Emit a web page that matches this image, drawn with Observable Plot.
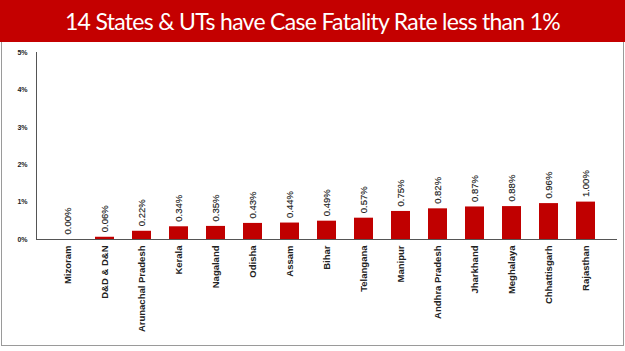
<!DOCTYPE html>
<html>
<head>
<meta charset="utf-8">
<script src="https://cdn.jsdelivr.net/npm/d3@7"></script>
<script src="https://cdn.jsdelivr.net/npm/@observablehq/plot@0.6"></script>
<style>
  html, body { margin: 0; padding: 0; background: #ffffff; width: 625px; height: 351px; overflow: hidden; }
  #banner { height: 42px; background: #c40000; color: #ffffff; font-family: Lato, "Open Sans", sans-serif; font-size: 23px; letter-spacing: -0.7px; line-height: 42px; text-align: center; white-space: nowrap; }
  #box { position: absolute; left: 1px; top: 42px; width: 621px; height: 303px; border-left: 1px solid #9a9a9a; border-right: 1px solid #9a9a9a; border-bottom: 1px solid #9a9a9a; }
  #chart { position: absolute; left: 0; top: 42px; }
</style>
</head>
<body>
<div id="banner">14 States &amp; UTs have Case Fatality Rate less than 1%</div>
<div id="box"></div>
<div id="chart"></div>
<script>
const states = ["Mizoram", "D&D & D&N", "Arunachal Pradesh", "Kerala", "Nagaland", "Odisha", "Assam", "Bihar", "Telangana", "Manipur", "Andhra Pradesh", "Jharkhand", "Meghalaya", "Chhattisgarh", "Rajasthan"];
const cfr = [0.00, 0.06, 0.22, 0.34, 0.35, 0.43, 0.44, 0.49, 0.57, 0.75, 0.82, 0.87, 0.88, 0.96, 1.00];
const yTicks = [0, 1, 2, 3, 4, 5];

const data = states.map((s, i) => ({state: s, value: cfr[i]}));

const chart = Plot.plot({
  width: 625,
  height: 303,
  marginTop: 10,
  marginBottom: 106,
  marginLeft: 36,
  marginRight: 8,
  style: {background: "transparent", fontFamily: "'Liberation Sans', Arial, sans-serif"},
  x: {domain: states, padding: 0.485},
  y: {domain: [0, 5]},
  marks: [
    Plot.barY(data, {x: "state", y: "value", fill: "#c00000"}),
    Plot.axisY({ticks: yTicks, tickSize: 0, tickPadding: 9, tickFormat: d => d + "%", fontSize: 7, fontWeight: "bold", fill: "#222", label: null}),
    Plot.axisX({tickSize: 0, tickPadding: 6, tickRotate: -90, fontSize: 9.5, fontWeight: "bold", fill: "#222", label: null}),
    Plot.frame({anchor: "left", stroke: "#555"}),
    Plot.ruleY([0], {stroke: "#555"}),
    Plot.text(data, {x: "state", y: "value", text: d => d.value.toFixed(2) + "%", rotate: -90, textAnchor: "start", dy: -5, fontSize: 9.5, fill: "#222", stroke: "#222", strokeWidth: 0.15})
  ]
});
document.getElementById("chart").appendChild(chart);
</script>
</body>
</html>
